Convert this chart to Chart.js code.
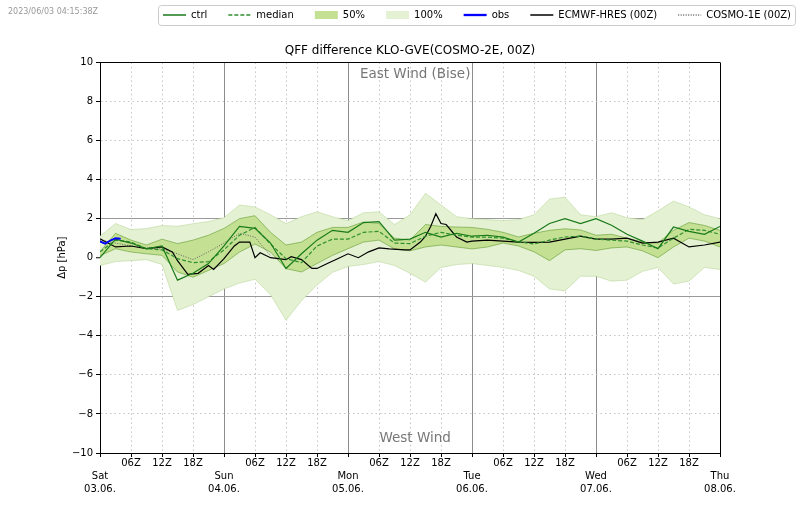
<!DOCTYPE html>
<html>
<head>
<meta charset="utf-8">
<script src="https://cdn.jsdelivr.net/npm/chart.js@4.4.1/dist/chart.umd.min.js"></script>
<style>
  html, body { margin: 0; padding: 0; background: #fff; }
  canvas { display: block; }
</style>
</head>
<body>
<canvas id="myChart" width="800" height="509"></canvas>
<script>
// lead time in hours from Sat 03.06. 00Z, ensemble output every 3 h
const hours3 = [0, 3, 6, 9, 12, 15, 18, 21, 24, 27, 30, 33, 36, 39, 42, 45, 48,
  51, 54, 57, 60, 63, 66, 69, 72, 75, 78, 81, 84, 87, 90, 93, 96,
  99, 102, 105, 108, 111, 114, 117, 120];

const ctrl = [0.0, 0.95, 0.75, 0.45, 0.6, -1.15, -0.8, -0.3, 0.6,
  1.6, 1.5, 0.75, -0.55, 0.2, 0.9, 1.4, 1.3,
  1.8, 1.85, 0.9, 0.95, 1.3, 1.05, 1.25, 1.1,
  1.15, 1.05, 0.8, 1.25, 1.75, 2.0, 1.75, 2.0,
  1.66, 1.2, 0.85, 0.46, 1.57, 1.35, 1.2, 1.6];

const median = [0.3, 0.9, 0.8, 0.46, 0.4, -0.05, -0.25, -0.2, 0.4,
  1.15, 1.55, 0.7, -0.05, -0.25, 0.6, 0.95, 0.95,
  1.3, 1.35, 0.75, 0.72, 1.1, 1.3, 1.15, 1.05,
  1.05, 1.0, 0.82, 0.7, 0.9, 1.06, 1.1, 0.95,
  0.9, 0.85, 0.65, 0.5, 1.0, 1.45, 1.4, 1.2];

const p50Hi = [0.3, 1.25, 0.9, 0.65, 0.95, 0.72, 0.9, 1.15, 1.5,
  2.0, 2.15, 1.3, 0.65, 0.8, 1.3, 1.55, 1.55,
  1.83, 1.75, 1.0, 0.9, 1.7, 1.6, 1.57, 1.55,
  1.45, 1.3, 1.06, 1.25, 1.4, 1.48, 1.42, 1.15,
  1.2, 1.0, 0.8, 0.75, 1.4, 1.8, 1.65, 1.4];

const p50Lo = [0.1, 0.46, 0.29, 0.2, 0.12, -0.73, -1.0, -0.65, -0.3,
  0.29, 0.7, 0.29, -0.56, -0.73, -0.3, 0.12, 0.46,
  0.8, 0.9, 0.45, 0.35, 0.55, 0.65, 0.55, 0.45,
  0.55, 0.75, 0.6, 0.3, -0.15, 0.4, 0.46, 0.37,
  0.5, 0.55, 0.35, 0.0, 0.55, 1.0, 0.85, 0.55];

const p100Hi = [1.1, 1.75, 1.44, 1.49, 1.65, 1.61, 1.74, 1.85, 2.05,
  2.7, 2.6, 2.2, 1.75, 2.1, 2.35, 2.1, 1.9,
  2.3, 2.35, 1.7, 2.2, 3.3, 2.7, 2.1, 2.0,
  1.95, 1.9, 1.95, 2.2, 3.0, 3.1, 2.2, 2.1,
  2.3, 2.05, 1.95, 2.4, 2.9, 2.6, 2.2, 2.0];

const p100Lo = [-0.4, -0.2, -0.15, -0.1, -0.35, -2.7, -2.4, -2.0, -1.6,
  -1.3, -1.1, -1.9, -3.2, -2.2, -1.4, -0.75, -0.45,
  -0.35, -0.2, -0.4, -0.8, -1.25, -0.5, -0.35, -0.3,
  -0.4, -0.5, -0.65, -0.95, -1.6, -1.7, -0.95, -0.95,
  -1.2, -1.15, -0.7, -0.5, -1.35, -1.2, -0.5, -0.6];

const ecmwfHours = [0, 3, 6, 9, 12, 14, 15, 17, 19, 21, 22, 24, 26, 27, 29, 30, 31, 33,
  36, 37, 39, 41, 42, 44, 46, 48, 50, 52, 54, 56, 59, 60,
  62, 63, 64, 65, 66, 67, 69, 71, 72, 75, 78, 81, 84, 87, 90, 93, 96,
  99, 102, 105, 108, 111, 114, 117, 120];
const ecmwfValues = [0.97, 0.55, 0.6, 0.46, 0.55, 0.3, -0.15, -0.85, -0.8, -0.4, -0.6, -0.05, 0.6, 0.8, 0.8, 0.0, 0.25, 0.0,
  -0.1, 0.05, -0.1, -0.55, -0.55, -0.3, -0.05, 0.2, 0.0, 0.3, 0.5, 0.45, 0.4, 0.4,
  0.8, 1.1, 1.6, 2.25, 1.75, 1.7, 1.06, 0.8, 0.85, 0.9, 0.85, 0.8, 0.78, 0.8, 0.95, 1.1, 0.95,
  0.95, 1.0, 0.75, 0.8, 1.0, 0.55, 0.65, 0.8];

const cosmo1eHours = [0, 3, 6, 9, 12, 15, 18, 21, 24, 27, 30, 33];
const cosmo1eValues = [0.9, 0.75, 0.6, 0.5, 0.45, 0.2, -0.1, 0.3, 0.75, 1.25, 1.05, 0.1];

const obsHours = [0, 1, 2, 3, 4];
const obsValues = [0.84, 0.72, 0.88, 1.0, 0.97];

const dayNames = ["Sat", "Sun", "Mon", "Tue", "Wed", "Thu"];
const dayDates = ["03.06.", "04.06.", "05.06.", "06.06.", "07.06.", "08.06."];
const stamp = "2023/06/03 04:15:38Z";

const pts = (xs, ys) => xs.map((x, i) => ({ x, y: ys[i] }));
const fmtNum = (v) => (v < 0 ? "\u2212" + Math.abs(v) : String(v));
const xLabel = (v) =>
  v % 24 === 0 ? ["", dayNames[v / 24], dayDates[v / 24]] : String(v % 24).padStart(2, "0") + "Z";

Chart.defaults.font.family = "'DejaVu Sans', sans-serif";
Chart.defaults.color = "#000";

const decorations = {
  id: "decorations",
  afterDraw(chart) {
    const { ctx, scales } = chart;
    ctx.save();
    ctx.font = "8px 'DejaVu Sans'";
    ctx.fillStyle = "#999";
    ctx.textAlign = "left";
    ctx.textBaseline = "middle";
    ctx.fillText(stamp, 8, 12);

    // frame round the legend row
    const boxes = chart.legend.legendHitBoxes;
    const l = Math.min(...boxes.map((b) => b.left)) - 5;
    const r = Math.max(...boxes.map((b) => b.left + b.width)) + 4;
    const t = Math.min(...boxes.map((b) => b.top)) - 5;
    const btm = Math.max(...boxes.map((b) => b.top + b.height)) + 5;
    ctx.strokeStyle = "#cccccc";
    ctx.lineWidth = 1;
    ctx.beginPath();
    ctx.roundRect(l + 0.5, t + 0.5, r - l, btm - t, 3);
    ctx.stroke();

    ctx.font = "13.5px 'DejaVu Sans'";
    ctx.fillStyle = "#777";
    ctx.textAlign = "center";
    const xm = scales.x.getPixelForValue(61);
    ctx.fillText("East Wind (Bise)", xm, scales.y.getPixelForValue(9.4));
    ctx.fillText("West Wind", xm, scales.y.getPixelForValue(-9.25));
    ctx.restore();
  },
};

const ctx = document.getElementById("myChart").getContext("2d");
const myChart = new Chart(ctx, {
  type: "line",
  data: {
    datasets: [
      { label: "ctrl", data: pts(hours3, ctrl), borderColor: "#187a18", borderWidth: 1.2, order: 1 },
      { label: "median", data: pts(hours3, median), borderColor: "#2f8f2f", borderWidth: 1.2, borderDash: [4, 2], order: 2 },
      { label: "50%", data: pts(hours3, p50Hi), borderColor: "rgba(90,150,40,0.7)", borderWidth: 0.8,
        backgroundColor: "#c4e093", fill: 7, band: true, order: 9 },
      { label: "100%", data: pts(hours3, p100Hi), borderColor: "rgba(175,208,140,0.8)", borderWidth: 0.6,
        backgroundColor: "#e4f1d3", fill: 8, band: true, order: 10 },
      { label: "obs", data: pts(obsHours, obsValues), borderColor: "#0000ff", borderWidth: 2, order: 0 },
      { label: "ECMWF-HRES (00Z)", data: pts(ecmwfHours, ecmwfValues), borderColor: "#000", borderWidth: 1.2, order: 3 },
      { label: "COSMO-1E (00Z)", data: pts(cosmo1eHours, cosmo1eValues), borderColor: "#666", borderWidth: 1,
        borderDash: [1, 1.5], order: 4 },
      { label: "50% low", data: pts(hours3, p50Lo), borderColor: "rgba(90,150,40,0.7)", borderWidth: 0.8, order: 8.8 },
      { label: "100% low", data: pts(hours3, p100Lo), borderColor: "rgba(175,208,140,0.8)", borderWidth: 0.6, order: 9.8 },
    ],
  },
  options: {
    responsive: false,
    animation: false,
    devicePixelRatio: 1,
    layout: { padding: { top: -11, right: -12, left: 0, bottom: 0 } },
    elements: { point: { radius: 0 }, line: { tension: 0 } },
    plugins: {
      tooltip: { enabled: false },
      title: {
        display: true,
        text: "QFF difference KLO-GVE(COSMO-2E, 00Z)",
        font: { size: 12, weight: "normal" },
        color: "#000",
        fullSize: false,
        weight: 500,
        padding: { top: 14, bottom: 4 },
      },
      legend: {
        position: "top",
        align: "end",
        labels: {
          usePointStyle: true,
          pointStyleWidth: 23,
          boxHeight: 8,
          padding: 21,
          font: { size: 10 },
          color: "#000",
          generateLabels: (chart) =>
            chart.data.datasets.slice(0, 7).map((ds, i) => ({
              text: ds.label,
              datasetIndex: i,
              fillStyle: ds.band ? ds.backgroundColor : ds.borderColor,
              strokeStyle: ds.borderColor,
              lineWidth: ds.band ? 0 : ds.borderWidth + 0.3,
              lineDash: ds.borderDash || [],
              pointStyle: ds.band ? "rect" : "line",
              hidden: false,
            })),
        },
      },
    },
    scales: {
      x: {
        type: "linear",
        min: 0,
        max: 120,
        ticks: {
          stepSize: 6,
          autoSkip: false,
          maxRotation: 0,
          padding: 0,
          font: { size: 10, lineHeight: 1.3 },
          color: "#000",
          callback: xLabel,
        },
        grid: {
          color: (c) => {
            const v = c.tick ? c.tick.value : 0;
            if (v === 0 || v === 120) return "#000";
            return v % 24 === 0 ? "#8c8c8c" : "#c4c4c4";
          },
          lineWidth: 1,
          tickLength: 4,
          tickColor: "#000",
          tickWidth: 1,
        },
        border: {
          color: "#000",
          dash: (c) => (c.tick && c.tick.value % 24 !== 0 ? [1.5, 3] : []),
        },
        afterFit: (s) => { s.height = 56; },
      },
      y: {
        min: -10,
        max: 10,
        ticks: { stepSize: 2, font: { size: 10 }, color: "#000", padding: 3, callback: fmtNum },
        grid: {
          color: (c) => {
            const v = c.tick ? Math.abs(c.tick.value) : 10;
            if (v === 0 || v === 10) return "#000";
            return v === 2 ? "#9a9a9a" : "#c4c4c4";
          },
          lineWidth: (c) => (c.tick && c.tick.value === 0 ? 1.5 : 1),
          tickLength: 4,
          tickColor: "#000",
          tickWidth: 1,
        },
        border: {
          color: "#000",
          dash: (c) => {
            const v = c.tick ? Math.abs(c.tick.value) : 0;
            return v === 4 || v === 6 || v === 8 ? [1.5, 3] : [];
          },
        },
        title: { display: true, text: "Δp [hPa]", font: { size: 10 }, padding: { top: 56, bottom: 0 } },
        afterFit: (s) => { s.width = 100; },
      },
      yR: {
        axis: "y",
        type: "linear",
        position: "right",
        grid: { display: false, drawTicks: false },
        ticks: { display: false },
        border: { display: false },
        afterFit: (s) => { s.width = 92; },
      },
    },
  },
  plugins: [decorations],
});
</script>
</body>
</html>
